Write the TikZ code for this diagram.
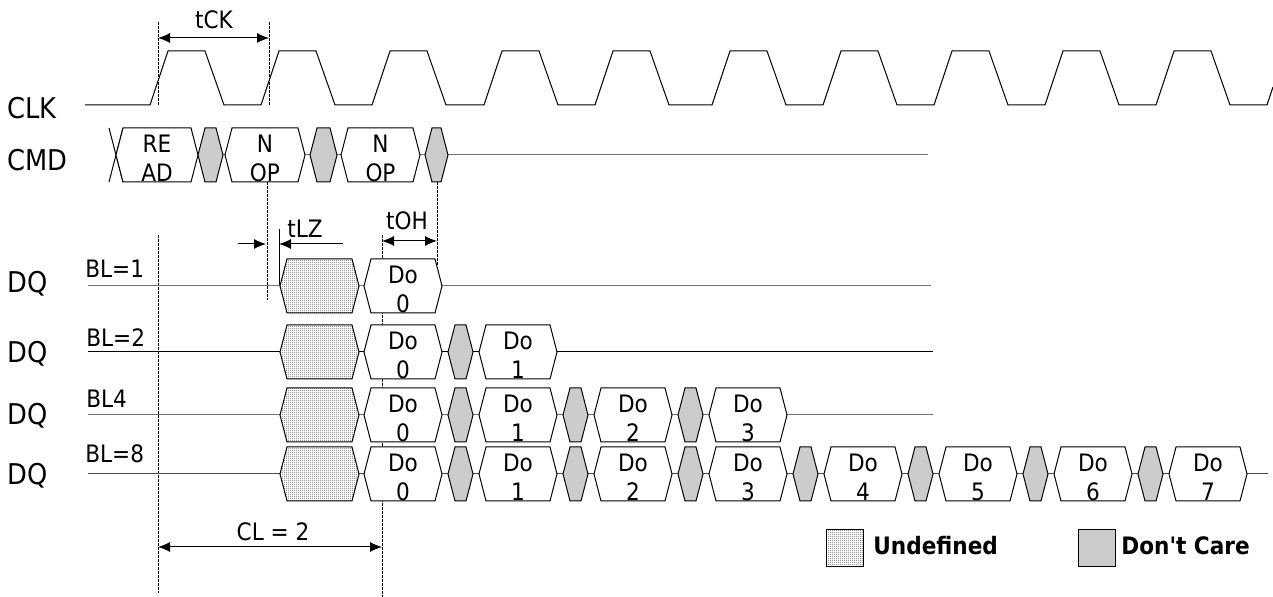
\documentclass[tikz,border=0pt]{standalone}
\usepackage{fontspec}
\setmainfont{DejaVu Sans Condensed}
\newfontfamily\keyFont{DejaVu Sans Condensed}
\usetikzlibrary{arrows.meta, patterns}

\pgfdeclarepatternformonly{fineDots}{\pgfqpoint{0pt}{0pt}}{\pgfqpoint{1pt}{1pt}}{\pgfqpoint{1pt}{1pt}}{%
	\pgfpathcircle{\pgfqpoint{0.5pt}{0.5pt}}{0.32pt}\pgfusepath{fill}}

\tikzset{
	sig/.style={line width=0.5pt},
	guide/.style={line width=0.5pt, dash pattern=on 1.5pt off 0.5pt},
	cellBox/.style={draw, line width=0.5pt, fill=white},
	dontCare/.style={draw, line width=0.5pt, fill=black!20},
	undefCell/.style={draw, line width=0.5pt, preaction={fill=white}, pattern=fineDots, pattern color=black!70},
	dim/.style={line width=0.5pt, {Latex[length=6pt,width=5pt]}-{Latex[length=6pt,width=5pt]}},
	oneArrow/.style={line width=0.5pt, -{Latex[length=6pt,width=5pt]}},
	bigText/.style={font=\fontsize{14.3}{17}\selectfont, inner sep=0pt},
	smallText/.style={font=\fontsize{12}{14.5}\selectfont, inner sep=0pt},
	cellText/.style={font=\fontsize{12}{14.5}\selectfont, align=center, inner sep=0pt, anchor=north},
	keyText/.style={font=\keyFont\fontsize{12}{14.5}\selectfont\bfseries, inner sep=0pt, anchor=base west}
}

% hexagon of a bus value: left tip, right tip, row, slope
\newcommand{\hexPath}[4]{(#1,#3) -- (#1+#4,#3-27) -- (#2-#4,#3-27) -- (#2,#3) -- (#2-#4,#3+27) -- (#1+#4,#3+27) -- cycle}
% data cell: name, left tip, right tip, row, upper text, lower text
\newcommand{\dataCell}[6]{%
	\draw[cellBox] \hexPath{#2}{#3}{#4}{7};
	\node[cellText] (#1) at ({(#2+#3)/2},#4-20) {#5\\#6};}
% don't care cell: left tip, right tip, row
\newcommand{\dcCell}[3]{\draw[dontCare] \hexPath{#1}{#2}{#3}{7};}

\begin{document}
\begin{tikzpicture}[x=0.5pt, y=-0.5pt]
	\useasboundingbox (0,0) rectangle (1273,597);
	
	%Signal names
	\node[bigText, anchor=base west] (clkName) at (7,119) {CLK};
	\node[bigText, anchor=base west] (cmdName) at (7,171) {CMD};
	\foreach \yb/\nm in {293/1, 363/2, 425/3, 485/4}
		\node[bigText, anchor=base west] (dqName\nm) at (7,\yb) {DQ};
	
	%Burst lengths
	\node[smallText, anchor=base west] (blOne) at (85,278) {BL=1};
	\node[smallText, anchor=base west] (blTwo) at (86,347) {BL=2};
	\node[smallText, anchor=base west] (blFour) at (86,408) {BL4};
	\node[smallText, anchor=base west] (blEight) at (85,463) {BL=8};
	
	%Clock
	\draw[sig] (85,105) \foreach \r in {150,261,372,484,595,712,823,934,1045,1156}
		{-- (\r,105) -- (\r+18,51) -- (\r+55,51) -- (\r+74,105)} -- (1267,105) -- (1273,87);
	
	%tCK
	\draw[guide] (158,22) -- (158,105);
	\draw[guide] (269,22) -- (269,105);
	\coordinate (tckStart) at (158,38);
	\coordinate (tckEnd) at (269,38);
	\draw[dim] (tckStart) -- (tckEnd);
	\node[smallText, anchor=base] (tckLabel) at (214,29) {tCK};
	
	%Guide lines
	\draw[guide] (158,235) -- (158,593);
	\draw[guide] (382,235) -- (382,597);
	\draw[guide] (267,182) -- (267,300);
	\draw[guide] (437,182) -- (437,265);
	\draw[sig] (279,229) -- (279,286);
	
	%Command bus
	\draw[sig, black!55] (198,155) -- (928,155);
	\draw[sig] (109,128) -- (123,182) (123,128) -- (109,182);
	\dataCell{cmdRead}{116}{198}{155}{RE}{AD}
	\dcCell{198}{223}{155}
	\dataCell{cmdNopOne}{225}{305}{155}{N}{OP}
	\dcCell{310}{337}{155}
	\dataCell{cmdNopTwo}{341}{420}{155}{N}{OP}
	\dcCell{425}{448}{155}
	
	%Data rows
	\foreach \row/\last/\lineEnd/\lineCol in {286/0/931/black!55, 352/1/933/black, 415/3/933/black!55, 474/7/1268/black!70} {
		\draw[sig, \lineCol] (88,\row) -- (\lineEnd,\row);
		\draw[undefCell] \hexPath{280}{359}{\row}{7};
		\foreach \k in {0,...,\last} {
			\pgfmathsetmacro{\xa}{364+115*\k}
			\ifnum\k>0 \dcCell{\xa-31}{\xa-6}{\row}\fi
			\dataCell{do\row k\k}{\xa}{\xa+78}{\row}{Do}{\k}
		}
	}
	
	%tLZ
	\coordinate (tlzLeftTail) at (238,244);
	\coordinate (tlzLeftTip) at (266,244);
	\coordinate (tlzRightTail) at (343,244);
	\coordinate (tlzRightTip) at (279,244);
	\draw[oneArrow] (tlzLeftTail) -- (tlzLeftTip);
	\draw[oneArrow] (tlzRightTail) -- (tlzRightTip);
	\node[smallText, anchor=base] (tlzLabel) at (305,238) {tLZ};
	
	%tOH
	\coordinate (tohStart) at (382,241);
	\coordinate (tohEnd) at (437,241);
	\draw[dim] (tohStart) -- (tohEnd);
	\node[smallText, anchor=base] (tohLabel) at (407,230) {tOH};
	
	%CL
	\coordinate (clStart) at (158,547);
	\coordinate (clEnd) at (382,547);
	\draw[dim] (clStart) -- (clEnd);
	\node[smallText, anchor=base] (clLabel) at (273,541) {CL = 2};
	
	%Legend
	\draw[undefCell] (826,530) rectangle (863,567);
	\node[keyText] (undefKey) at (873,555) {Undefined};
	\draw[dontCare] (1078,530) rectangle (1115,567);
	\node[keyText] (dcKey) at (1121,555) {Don't Care};
	
\end{tikzpicture}
\end{document}
